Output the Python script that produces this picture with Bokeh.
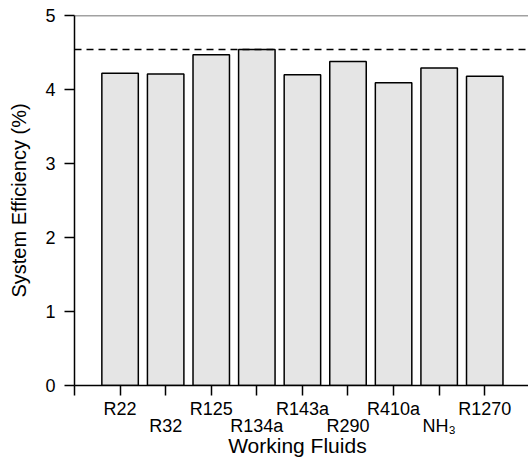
from bokeh.plotting import figure
from bokeh.models import FixedTicker, Span, ColumnDataSource, LinearAxis
from bokeh.embed import file_html
from bokeh.resources import INLINE

fluids = ["R22", "R32", "R125", "R134a", "R143a", "R290", "R410a", "NH\u2083", "R1270"]
efficiency = [4.22, 4.21, 4.47, 4.54, 4.20, 4.38, 4.09, 4.29, 4.18]
reference_line = 4.54
y_ticks = [0, 1, 2, 3, 4, 5]
x_title = "Working Fluids"
y_title = "System Efficiency (%)"

positions = list(range(1, len(fluids) + 1))
src = ColumnDataSource(dict(x=positions, top=efficiency))

p = figure(width=528, height=459, x_range=(0, 9.96), y_range=(0, 5),
           output_backend="svg", toolbar_location=None,
           min_border_left=74, min_border_right=0, min_border_top=15, min_border_bottom=74)
p.outline_line_color = None
p.grid.grid_line_color = None
p.background_fill_color = "white"

p.vbar(x="x", top="top", width=0.8, bottom=0, source=src,
       fill_color="#e5e5e5", line_color="black", line_width=1.5)

p.add_layout(Span(location=reference_line, dimension="width", line_color="black",
                  line_width=1.5, line_dash="7 5"))
p.add_layout(Span(location=5, dimension="width", line_color="#444444", line_width=1.5))

font = "Liberation Sans"
# x axis
p.xaxis.ticker = FixedTicker(ticks=[0] + positions)
overrides = {0: ""}
for i, name in enumerate(fluids):
    overrides[positions[i]] = name if i % 2 == 0 else "\n" + name
p.xaxis.major_label_overrides = overrides
p.yaxis.axis_label = y_title
p.yaxis.ticker = FixedTicker(ticks=y_ticks)

for ax in (p.xaxis, p.yaxis):
    ax.axis_line_color = "black"
    ax.axis_line_width = 1.5
    ax.major_tick_line_color = "black"
    ax.major_tick_line_width = 1.5
    ax.major_tick_out = 10
    ax.major_tick_in = 0
    ax.minor_tick_line_color = None
    ax.major_label_text_font = font
    ax.major_label_text_font_size = "18px"
    ax.major_label_text_color = "black"
    ax.axis_label_text_font = font
    ax.axis_label_text_font_style = "normal"
    ax.axis_label_text_color = "black"

p.yaxis.axis_label_text_font_size = "20px"
p.xaxis.major_label_standoff = 3
p.xaxis.major_label_text_line_height = 0.89
p.yaxis.major_label_standoff = 9
p.yaxis.axis_label_standoff = 12

# x-axis title as a second, line-less axis below the staggered tick labels
title_pos = 4.89
title_axis = LinearAxis(ticker=FixedTicker(ticks=[title_pos]),
                        major_label_overrides={title_pos: x_title},
                        axis_line_color=None, major_tick_line_color=None,
                        minor_tick_line_color=None, major_tick_out=0, major_tick_in=0,
                        major_label_standoff=-6, major_label_text_font=font,
                        major_label_text_font_size="21px", major_label_text_color="black")
p.add_layout(title_axis, "below")

open("out.html", "w").write(file_html(p, INLINE))
